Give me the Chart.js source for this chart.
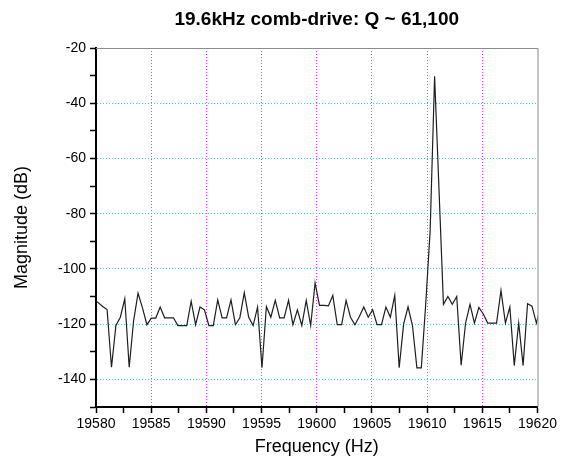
<!DOCTYPE html>
<html>
<head>
<meta charset="utf-8">
<script src="https://cdn.jsdelivr.net/npm/chart.js@4.4.1/dist/chart.umd.min.js"></script>
<style>
  html, body { margin: 0; padding: 0; background: #fff; }
  #wrap { width: 570px; height: 466px; }
</style>
</head>
<body>
<div id="wrap"><canvas id="spectrum" width="570" height="466"></canvas></div>
<script>
// sweep: first bin and bin spacing (Hz)
const freqStart = 19579.8;
const freqStep = 0.401;

// measured magnitude per bin (dB)
const magnitudeDb = [
  -111.0, -112.2, -113.6, -114.7, -135.6, -120.5, -117.5, -110.8, -135.6, -118.7,
  -108.8, -114.1, -120.2, -117.8, -117.8, -113.8, -117.7, -117.7, -117.7, -120.5,
  -120.5, -120.5, -111.7, -120.2, -113.8, -114.8, -120.5, -120.5, -111.2, -117.7,
  -117.7, -111.2, -120.2, -117.7, -108.6, -117.5, -120.5, -113.8, -135.8, -113.6,
  -117.5, -111.4, -117.7, -117.7, -111.4, -120.2, -114.8, -120.5, -111.4, -120.5,
  -105.1, -113.2, -113.2, -113.4, -109.6, -120.2, -120.2, -111.4, -117.5, -120.2,
  -117.2, -113.8, -117.5, -114.8, -120.2, -120.2, -113.8, -117.5, -109.6, -135.8,
  -120.0, -113.7, -120.5, -135.8, -135.8, -112.6, -86.0, -30.2, -71.4, -112.8,
  -110.0, -112.8, -110.0, -134.9, -119.6, -112.8, -119.6, -113.9, -116.3, -119.6,
  -119.6, -119.6, -107.8, -119.6, -113.8, -135.0, -119.6, -135.0, -112.6, -113.5,
  -119.6, -113.2
];

const xRange = [19580, 19620];
const yRange = [-150, -20];
const xGridAt = [19585, 19590, 19595, 19600, 19605, 19610, 19615];
const yGridAt = [-140, -120, -100, -80, -60, -40];

const points = magnitudeDb.map((db, i) => ({ x: freqStart + freqStep * i, y: db }));

const FONT = "'Liberation Sans', Arial, sans-serif";

// gray top/right frame lines
const framePlugin = {
  id: 'frame',
  beforeDatasetsDraw(chart) {
    const { ctx, chartArea: a } = chart;
    ctx.save();
    ctx.strokeStyle = '#8c8c8c';
    ctx.lineWidth = 1;
    ctx.beginPath();
    ctx.moveTo(a.left, a.top + 0.5);
    ctx.lineTo(a.right + 0.5, a.top + 0.5);
    ctx.lineTo(a.right + 0.5, a.bottom);
    ctx.stroke();
    ctx.restore();
  }
};

new Chart(document.getElementById('spectrum'), {
  type: 'line',
  data: {
    datasets: [{
      data: points,
      borderColor: '#1e1e1e',
      borderWidth: 1.2,
      pointRadius: 0,
      tension: 0,
      fill: false
    }]
  },
  options: {
    responsive: false,
    animation: false,
    layout: { padding: { left: 0, right: 32.5, top: 0, bottom: 0 } },
    plugins: {
      legend: { display: false },
      tooltip: { enabled: false },
      title: {
        display: true,
        text: '19.6kHz comb-drive: Q ~ 61,100',
        color: '#000',
        fullSize: false,
        font: { family: FONT, size: 19, weight: 'bold', lineHeight: 1.2 },
        padding: { top: 8, bottom: 17.2 }
      }
    },
    scales: {
      x: {
        type: 'linear',
        min: xRange[0],
        max: xRange[1],
        afterFit(scale) { scale.height = 59; },
        ticks: {
          stepSize: 2.5,
          autoSkip: false,
          maxRotation: 0,
          padding: 3,
          color: '#000',
          font: { family: FONT, size: 14 },
          callback: v => (v % 5 === 0 ? String(v) : '')
        },
        grid: {
          color: c => (xGridAt.includes(c.tick && c.tick.value) ? '#ff30ff' : 'rgba(0,0,0,0)'),
          lineWidth: 1,
          tickColor: '#000',
          tickLength: 6,
          tickWidth: 1.5,
          tickBorderDash: []
        },
        border: { display: true, color: '#000', width: 2, dash: [1, 2] },
        title: {
          display: true,
          text: 'Frequency (Hz)',
          color: '#000',
          font: { family: FONT, size: 18, lineHeight: 1.2 },
          padding: { top: 0, bottom: 8 }
        }
      },
      y: {
        min: yRange[0],
        max: yRange[1],
        afterFit(scale) { scale.width = 96; },
        ticks: {
          stepSize: 10,
          padding: 4,
          color: '#000',
          font: { family: FONT, size: 14 },
          callback: v => (v % 20 === 0 ? String(v) : '')
        },
        grid: {
          color: c => (yGridAt.includes(c.tick && c.tick.value) ? '#30e0e0' : 'rgba(0,0,0,0)'),
          lineWidth: 1,
          tickColor: '#000',
          tickLength: 6,
          tickWidth: 1.5,
          tickBorderDash: []
        },
        border: { display: true, color: '#000', width: 2, dash: [1, 2] },
        title: {
          display: true,
          text: 'Magnitude (dB)',
          color: '#000',
          font: { family: FONT, size: 18, lineHeight: 1.2 },
          padding: { top: 11, bottom: 0 }
        }
      }
    }
  },
  plugins: [framePlugin]
});
</script>
</body>
</html>
